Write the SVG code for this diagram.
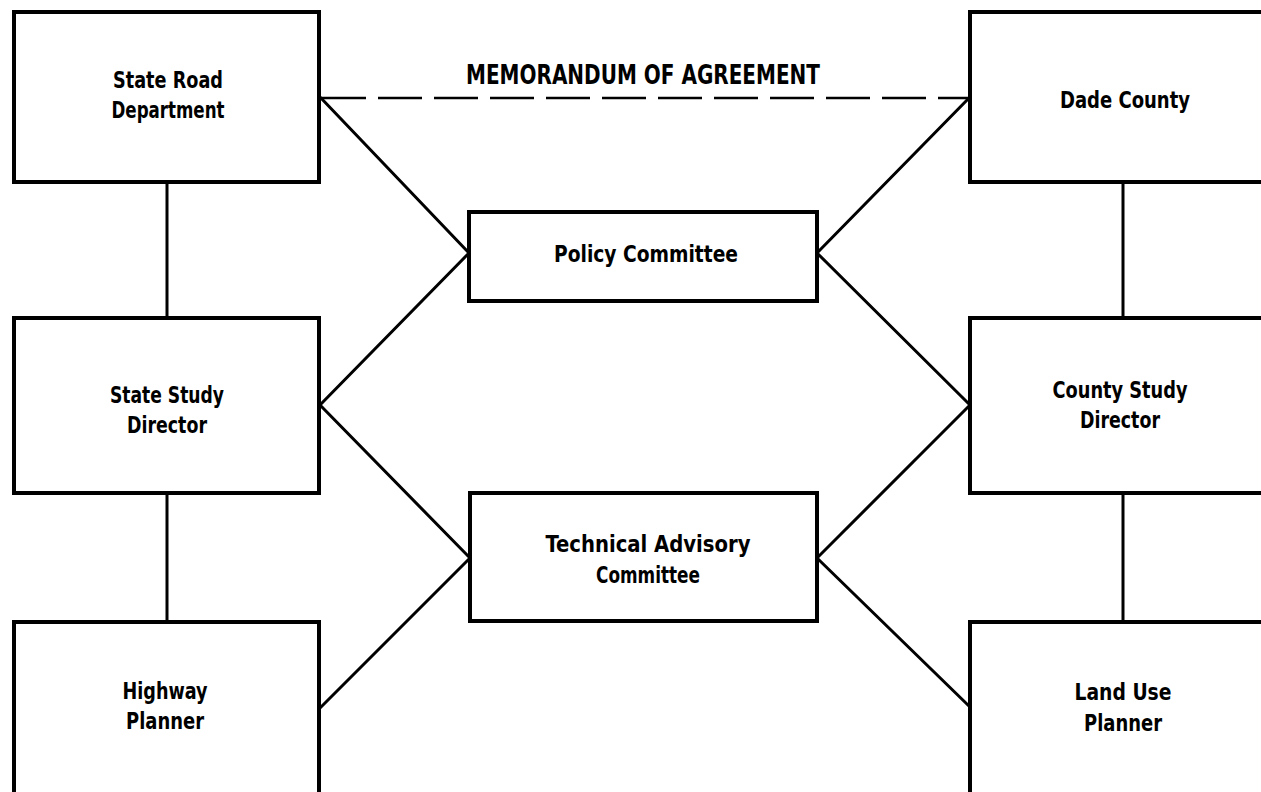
<svg xmlns="http://www.w3.org/2000/svg" width="1261" height="792" viewBox="0 0 1261 792">
<style>
.box{fill:#fff;stroke:#000;stroke-width:4}
.ln{stroke:#000;stroke-width:3;fill:none;stroke-linecap:round}
.dash{stroke:#000;stroke-width:2.5;fill:none;stroke-dasharray:44 12}
.t{font-family:"Liberation Sans Narrow","DejaVu Sans Condensed","Liberation Sans",Arial,sans-serif;font-weight:bold;font-size:23px;fill:#000;text-anchor:middle}
.m{font-family:"Liberation Sans Narrow","DejaVu Sans Condensed","Liberation Sans",Arial,sans-serif;font-weight:bold;font-size:27px;fill:#000}
</style>
<rect width="1261" height="792" fill="#fff"/>
<g id="connectors">
<line class="ln" x1="167" y1="182" x2="167" y2="318"/>
<line class="ln" x1="167" y1="493" x2="167" y2="622"/>
<line class="ln" x1="1123" y1="182" x2="1123" y2="318"/>
<line class="ln" x1="1123" y1="493" x2="1123" y2="622"/>
<line class="ln" x1="320" y1="97" x2="469" y2="253"/>
<line class="ln" x1="320" y1="405" x2="469" y2="253"/>
<line class="ln" x1="320" y1="405" x2="470" y2="558"/>
<line class="ln" x1="320" y1="708" x2="470" y2="558"/>
<line class="ln" x1="970" y1="97" x2="817" y2="253"/>
<line class="ln" x1="970" y1="405" x2="817" y2="253"/>
<line class="ln" x1="970" y1="405" x2="817" y2="558"/>
<line class="ln" x1="970" y1="707" x2="817" y2="558"/>
<line class="dash" x1="322" y1="98" x2="968" y2="98"/>
<text class="m" x="466" y="84" textLength="354" lengthAdjust="spacingAndGlyphs">MEMORANDUM OF AGREEMENT</text>
</g>
<g id="state-road">
<rect class="box" x="14" y="12" width="305" height="170"/>
<text class="t" x="168" y="88" textLength="110" lengthAdjust="spacingAndGlyphs">State Road</text>
<text class="t" x="168" y="118" textLength="113" lengthAdjust="spacingAndGlyphs">Department</text>
</g>
<g id="dade-county">
<rect class="box" x="970" y="12" width="320" height="170"/>
<text class="t" x="1125" y="108" textLength="130" lengthAdjust="spacingAndGlyphs">Dade County</text>
</g>
<g id="policy">
<rect class="box" x="469" y="212" width="348" height="89"/>
<text class="t" x="646" y="262" textLength="184" lengthAdjust="spacingAndGlyphs">Policy Committee</text>
</g>
<g id="state-study">
<rect class="box" x="14" y="318" width="305" height="175"/>
<text class="t" x="167" y="403" textLength="114" lengthAdjust="spacingAndGlyphs">State Study</text>
<text class="t" x="167" y="433" textLength="80" lengthAdjust="spacingAndGlyphs">Director</text>
</g>
<g id="county-study">
<rect class="box" x="970" y="318" width="320" height="175"/>
<text class="t" x="1120" y="398" textLength="135" lengthAdjust="spacingAndGlyphs">County Study</text>
<text class="t" x="1120" y="428" textLength="80" lengthAdjust="spacingAndGlyphs">Director</text>
</g>
<g id="technical">
<rect class="box" x="470" y="493" width="347" height="128"/>
<text class="t" x="648" y="552" textLength="205" lengthAdjust="spacingAndGlyphs">Technical Advisory</text>
<text class="t" x="648" y="583" textLength="104" lengthAdjust="spacingAndGlyphs">Committee</text>
</g>
<g id="highway">
<rect class="box" x="14" y="622" width="305" height="180"/>
<text class="t" x="165" y="699" textLength="85" lengthAdjust="spacingAndGlyphs">Highway</text>
<text class="t" x="165" y="729" textLength="78" lengthAdjust="spacingAndGlyphs">Planner</text>
</g>
<g id="land-use">
<rect class="box" x="970" y="622" width="320" height="180"/>
<text class="t" x="1123" y="700" textLength="97" lengthAdjust="spacingAndGlyphs">Land Use</text>
<text class="t" x="1123" y="731" textLength="78" lengthAdjust="spacingAndGlyphs">Planner</text>
</g>
</svg>
